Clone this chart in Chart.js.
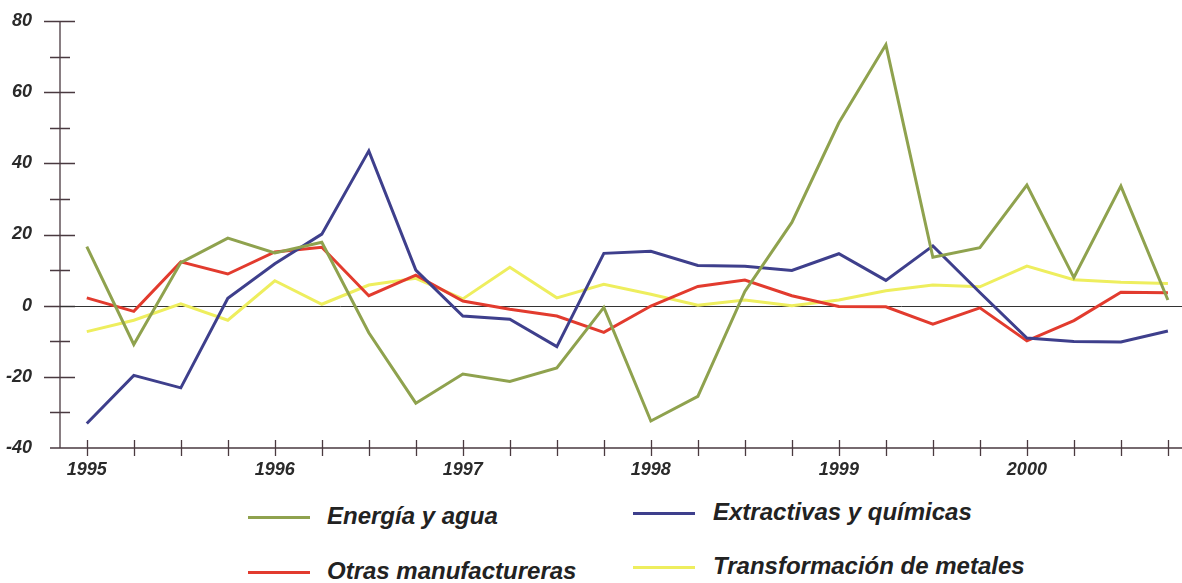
<!DOCTYPE html>
<html>
<head>
<meta charset="utf-8">
<script src="https://cdn.jsdelivr.net/npm/chart.js@4.4.1/dist/chart.umd.min.js"></script>
<style>
  body { margin: 0; background: #fff; }
  #wrap { position: relative; width: 1182px; height: 583px; }
  canvas { position: absolute; left: 0; top: 0; }
  .leg { position: absolute; font-family: 'Liberation Sans', Arial, sans-serif; font-style: italic; font-weight: bold; font-size: 24px; color: #222; white-space: nowrap; }
  .sw { position: absolute; height: 3px; }
</style>
</head>
<body>
<div id="wrap">
  <canvas id="chart" width="1182" height="490"></canvas>
  <div id="legend"></div>
</div>
<script>
// quarterly series, 1995 Q1 .. 2000 Q4
const years = ['1995', '1996', '1997', '1998', '1999', '2000'];
const quarters = years.flatMap(y => [y + ' I', y + ' II', y + ' III', y + ' IV']);

const energia = [16.6, -10.9, 12.1, 19, 14.8, 17.8, -7.6, -27.4, -19.2, -21.3, -17.5, -0.5,
                 -32.4, -25.5, 4, 23.4, 51.4, 73.3, 13.6, 16.3, 33.9, 7.9, 33.6, 1.6];
const extractivas = [-33.1, -19.6, -23.1, 2.1, 11.8, 20.1, 43.5, 10, -2.9, -3.8, -11.5, 14.7,
                     15.3, 11.3, 11.1, 9.9, 14.6, 7.1, 16.8, 3.7, -9.1, -10.1, -10.2, -7.1];
const otras = [2.2, -1.6, 12.3, 8.9, 15.1, 16.4, 2.8, 8.6, 1.3, -1, -2.9, -7.5,
               -0.1, 5.4, 7.2, 2.8, -0.2, -0.3, -5.2, -0.6, -9.9, -4.2, 3.8, 3.6];
const metales = [-7.3, -4.1, 0.5, -4.1, 7, 0.4, 5.8, 7.7, 1.9, 10.8, 2.2, 6,
                 3.2, 0.1, 1.6, 0, 1.6, 4.2, 5.8, 5.3, 11.1, 7.3, 6.6, 6.2];

const seriesNames = ['Energía y agua', 'Extractivas y químicas', 'Otras manufactureras', 'Transformación de metales'];
const seriesColors = ['#8fa24e', '#3e3f8c', '#e23b2e', '#eeee5e'];
const seriesData = [energia, extractivas, otras, metales];

const yTicks = [-40, -20, 0, 20, 40, 60, 80];

const axisColor = '#4a3a40';

// draws the crossing tick marks, axis lines and zero line
const axesPlugin = {
  id: 'axes',
  beforeDatasetsDraw(chart) {
    const { ctx, chartArea, scales } = chart;
    const x = scales.x, y = scales.y;
    ctx.save();
    ctx.strokeStyle = axisColor;
    ctx.lineWidth = 1.3;
    ctx.beginPath();
    // y axis
    ctx.moveTo(chartArea.left, chartArea.top);
    ctx.lineTo(chartArea.left, chartArea.bottom);
    // x axis
    ctx.moveTo(chartArea.left - 10, chartArea.bottom);
    ctx.lineTo(chartArea.right, chartArea.bottom);
    // y ticks every 10
    for (let v = -30; v <= 80; v += 10) {
      const py = Math.round(y.getPixelForValue(v)) + 0.5;
      const major = v % 20 === 0;
      ctx.moveTo(chartArea.left - (major ? 16 : 10), py);
      ctx.lineTo(chartArea.left + (major ? 15 : 10), py);
    }
    // x ticks each quarter
    quarters.forEach((q, i) => {
      const px = Math.round(x.getPixelForValue(i)) + 0.5;
      ctx.moveTo(px, chartArea.bottom - 8);
      ctx.lineTo(px, chartArea.bottom + 8);
    });
    ctx.stroke();
    // zero line
    ctx.strokeStyle = '#333';
    ctx.lineWidth = 1;
    ctx.beginPath();
    const z = Math.round(y.getPixelForValue(0)) + 0.5;
    ctx.moveTo(chartArea.left, z);
    ctx.lineTo(chartArea.right, z);
    ctx.stroke();
    ctx.restore();
  }
};

const tickFont = { family: "'Liberation Sans', Arial, sans-serif", size: 18, style: 'italic', weight: 'bold' };

new Chart(document.getElementById('chart'), {
  type: 'line',
  data: {
    datasets: seriesNames.map((name, k) => ({
      label: name,
      data: seriesData[k].map((v, i) => ({ x: i, y: v })),
      borderColor: seriesColors[k],
      backgroundColor: seriesColors[k],
      borderWidth: 3,
      pointRadius: 0,
      tension: 0,
    }))
  },
  options: {
    responsive: false,
    animation: false,
    layout: { padding: { top: 21, right: 0, left: 0, bottom: 0 } },
    plugins: {
      legend: { display: false },
      tooltip: { enabled: false },
    },
    scales: {
      x: {
        type: 'linear',
        min: -0.57,
        max: 23.3,
        grid: { display: false },
        border: { display: false },
        afterFit: s => { s.height = 42; s.paddingLeft = 0; s.paddingRight = 0; },
        afterBuildTicks: s => { s.ticks = quarters.map((q, i) => ({ value: i })); },
        ticks: {
          autoSkip: false,
          maxRotation: 0,
          padding: 3,
          color: '#2a2a2a',
          font: tickFont,
          callback: v => (v % 4 === 0) ? years[v / 4] : '',
        },
      },
      y: {
        min: -40,
        max: 80,
        grid: { display: false },
        border: { display: false },
        afterFit: s => { s.width = 60; s.paddingTop = 0; s.paddingBottom = 0; },
        ticks: {
          stepSize: 20,
          padding: 20,
          color: '#2a2a2a',
          font: tickFont,
          callback: v => yTicks.includes(v) ? v : '',
        },
      },
    },
  },
  plugins: [axesPlugin],
});

// legend laid out as a 2x2 block under the chart
const legendPos = [
  { lx: 248, tx: 327, y: 517 },
  { lx: 633, tx: 713, y: 513 },
  { lx: 248, tx: 327, y: 572 },
  { lx: 633, tx: 713, y: 567 },
];
const legendEl = document.getElementById('legend');
seriesNames.forEach((name, k) => {
  const p = legendPos[k];
  const sw = document.createElement('div');
  sw.className = 'sw';
  sw.style.left = p.lx + 'px';
  sw.style.width = '62px';
  sw.style.top = (p.y - 1) + 'px';
  sw.style.background = seriesColors[k];
  legendEl.appendChild(sw);
  const t = document.createElement('div');
  t.className = 'leg';
  t.style.left = p.tx + 'px';
  t.style.top = (p.y - 15) + 'px';
  t.textContent = name;
  legendEl.appendChild(t);
});
</script>
</body>
</html>
